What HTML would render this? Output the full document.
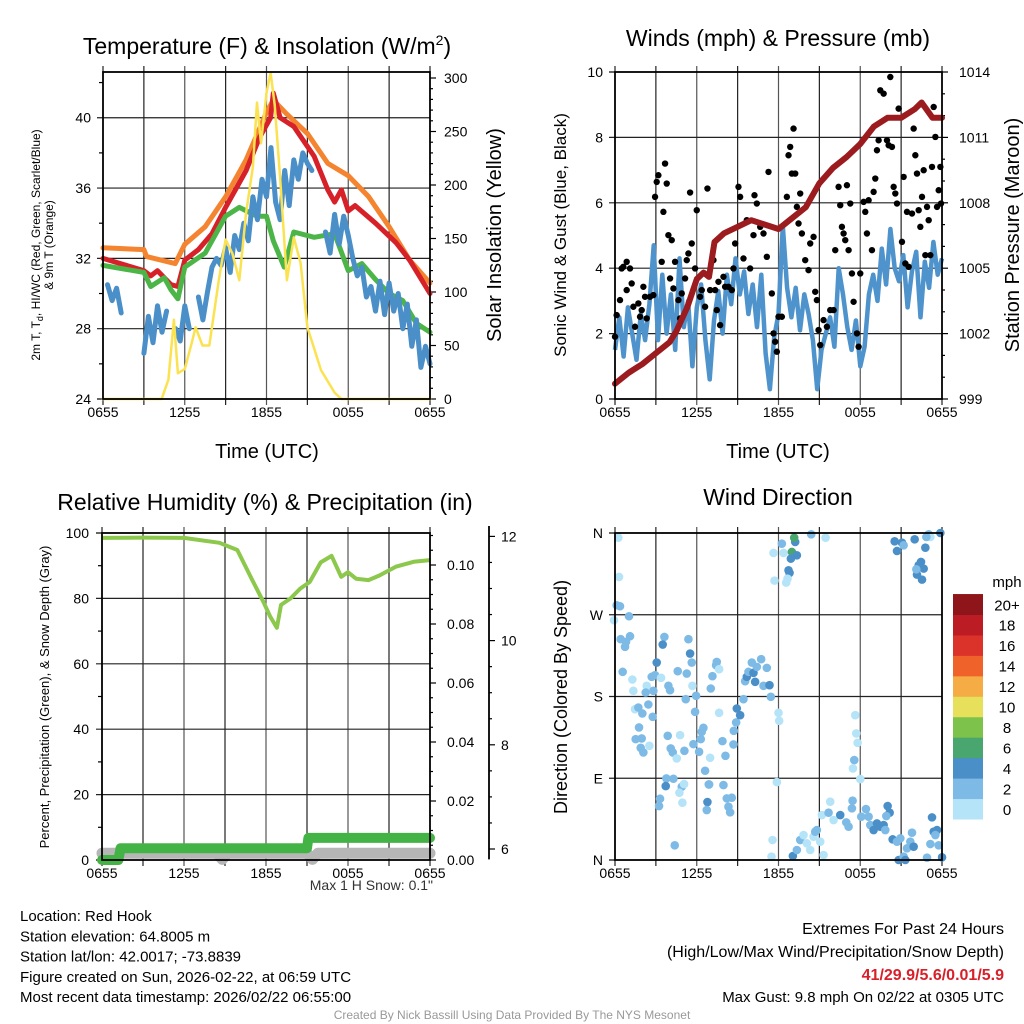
<!DOCTYPE html>
<html><head><meta charset="utf-8"><style>
html,body{margin:0;padding:0;background:#fff;}
svg{display:block;font-family:"Liberation Sans",Arial,sans-serif;}
</style></head><body>
<svg id="c" width="1024" height="1024" viewBox="0 0 1024 1024" xmlns="http://www.w3.org/2000/svg"></svg>
<script>
// ---------- DATA ----------
const xTickLabels = ["0655","1255","1855","0055","0655"];
// Temperature panel (hours since 0655 UTC)
const orangeT = [0,3,3.2,5.3,6,7.5,9,10.5,12,12.5,13.5,15,16.5,18,19.5,21,22.5,24];
const orangeV = [32.6,32.5,32.1,31.7,32.8,33.8,35.5,37.6,40.3,41.0,40.2,39.1,37.4,36.7,35.5,33.8,31.9,30.6];
const redT = [0,3,3.5,4,5,5.5,6,7,8,9,10.5,11.5,12.3,12.5,13,14,15.5,16.5,17,17.5,18,18.5,20,21.5,22.5,24];
const redV = [32.0,31.3,31.0,31.3,30.5,30.4,31.9,32.5,33.4,34.9,37.0,38.9,40.0,41.4,40.0,39.5,37.8,35.9,35.2,35.9,34.7,35.0,34.0,32.9,31.9,30.0];
const greenT = [0,3,3.5,4.5,5,5.5,6,7.5,9,10,11.3,12,12.5,13.3,14,15.5,17,18,19,20,21,22,23,24];
const greenV = [31.6,31.2,30.4,30.9,30.2,29.7,31.5,32.3,34.4,34.9,34.4,34.4,33.0,31.5,33.5,33.2,33.4,31.3,31.7,30.8,30.0,29.6,28.3,27.8];
const blueWC = [null,30.5,29.6,30.3,28.9,null,30.0,null,null,26.6,28.7,27.2,29.3,27.8,29.0,null,28.0,27.3,29.3,28.0,null,29.8,28.5,30.1,31.5,32.0,31.6,32.6,31.2,33.3,32.5,34.0,33.0,35.5,34.2,36.5,35.5,38.3,35.2,34.2,37.0,35.0,37.6,36.5,38.0,37.4,37.0,null,null,33.5,32.3,34.5,32.8,34.4,33.3,32.0,31.0,31.5,29.8,30.4,29.0,30.7,28.8,30.6,29.0,30.0,28.0,29.4,27.0,28.5,25.8,27.0,26.0];
const solarT = [0,4.3,4.8,5.2,5.5,6,6.5,6.8,7.3,7.8,8.5,9,9.5,10,10.5,11,11.3,11.6,12,12.3,12.6,13,13.5,14,14.5,15,16,17,17.5,24];
const solarV = [0,0,18,74,24,28,52,67,50,50,111,149,136,111,174,217,277,239,286,305,275,207,111,151,127,67,27,6,0,0];
// Winds panel
const sonicV = [1.5,2.5,1.3,2.8,2.0,1.2,2.6,1.8,2.9,4.7,1.8,3.8,2.0,3.2,1.5,4.3,2.2,3.0,1.0,2.8,3.5,1.8,0.6,2.4,3.3,2.0,3.8,2.9,4.3,3.2,3.9,2.6,3.5,2.2,3.8,1.4,0.3,1.9,2.6,5.3,3.4,2.5,3.4,2.1,3.2,2.6,1.8,0.3,1.5,2.0,2.5,1.6,4.0,3.2,2.2,1.5,2.4,1.0,1.6,3.2,3.8,3.0,4.6,3.5,5.2,4.0,3.6,4.4,2.8,3.9,4.5,2.5,4.2,3.4,4.8,3.8,4.3];
const pressT = [0,1,2,3,4,4.5,5.3,6,6.5,6.9,7.3,8,9,10,11,12,13,14,15,16,17,18,19,20,21,22,22.5,23.3,24];
const pressV = [999.7,1000.2,1000.6,1001.1,1001.6,1002.1,1003.2,1004.5,1004.8,1004.6,1006.2,1006.6,1006.9,1007.2,1007.0,1006.8,1007.3,1007.8,1008.9,1009.6,1010.1,1010.7,1011.5,1011.9,1011.9,1012.3,1012.6,1011.9,1011.9];
const gustX = [45,50,60,65,70,80,90,95,80,100,105,115,120,125,130,135,140,150,160,165,170,175,185,190,200,195,205,215,210,220,225,235,240,245,255,260,265,270,275,285,290,300,305,315,322,330,340,345,350,355,360,370,375,385,395,400,405,415,420,430,440,450,460,463,470,480,490,500,505,515,520,525,530,535,545,560,565,570,575,580,585,590,595,600,605,615,625,630,640,645,650,655,660,670,680,690,700,705,715,720,725,730,735,740,745,750,755,760,770,775,780,790,795,800,805,815,820,825,830,835,840,850,860,865,870,875,880,885,890,895,905,910,915,920,925,935,940,945,950,955,960,965,970,975,980,985,990,995,1000,1005,1010,1015,1020,1022];
const gustY = [830,765,720,625,620,605,625,670,690,740,800,730,770,750,680,710,775,710,705,410,365,345,605,455,370,310,525,540,655,685,605,720,775,700,655,600,580,397,550,625,450,710,690,740,385,690,600,690,750,665,795,650,680,680,690,625,550,380,410,595,480,625,525,405,430,500,520,590,335,700,820,845,875,770,770,410,285,260,340,205,340,440,490,400,520,600,630,550,530,695,720,810,855,780,800,750,750,570,380,435,500,520,540,375,570,430,640,725,820,860,640,425,455,520,420,570,395,355,270,240,90,100,240,255,50,260,380,400,430,145,545,350,610,455,620,460,205,285,340,450,500,410,330,585,440,480,585,320,140,230,440,390,320,430];
// Humidity panel
const rhT = [0,3,6,8.6,9.9,11,11.8,12.3,12.8,13.1,13.8,14.5,15.2,16,16.8,17.5,18,18.6,19.5,20.3,21.5,22.8,24];
const rhV = [98.5,98.6,98.5,97.0,94.8,85.6,79,74.5,71,78,80,83,85,91,93,86.6,88,86,85.6,87,89.7,91.2,91.7];
const precipT = [0,1.2,1.35,15.0,15.1,24];
const precipV = [0,0,0.004,0.004,0.0075,0.0075];
const snowT = [0,8.4,8.8,9.2,15.0,15.4,15.8,24];
const snowV = [5.92,5.92,5.8,5.92,5.92,5.8,5.92,5.92];
// Wind direction panel (zoom-pixel readings converted below)
const dirPx = [[55,52,1],[57,170,1],[50,255,3],[60,258,3],[42,300,1],[87,288,3],[62,357,3],[75,380,3],[90,348,3],[78,365,3],[68,455,3],[97,478,1],[100,512,1],[140,497,1],[137,517,3],[160,512,3],[155,470,3],[170,427,5],[165,465,3],[183,473,1],[193,350,3],[188,373,5],[205,497,3],[210,510,3],[233,453,3],[260,460,3],[270,400,5],[275,427,3],[265,357,3],[277,497,1],[257,537,3],[288,527,3],[285,575,3],[105,567,1],[115,562,3],[127,580,3],[145,553,3],[158,590,3],[117,622,3],[107,657,3],[125,655,3],[122,683,3],[148,677,1],[130,697,3],[203,647,3],[240,645,1],[212,685,3],[218,697,3],[230,715,1],[253,692,3],[280,672,3],[297,695,3],[302,657,3],[310,623,3],[305,635,3],[315,752,3],[330,713,1],[327,793,3],[367,663,3],[376,707,3],[370,795,3],[357,578,1],[401,632,3],[408,607,3],[400,673,3],[410,565,5],[420,585,5],[430,537,3],[435,483,3],[440,470,5],[445,455,3],[455,427,3],[460,458,5],[465,485,5],[470,440,3],[483,417,3],[490,497,3],[500,443,3],[508,495,5],[512,530,3],[348,435,3],[350,425,3],[357,447,1],[337,468,3],[332,505,3],[199,775,3],[220,776,3],[197,798,5],[245,800,3],[238,818,1],[252,792,1],[247,848,1],[180,836,3],[177,858,3],[224,976,3],[322,846,5],[320,870,3],[326,793,3],[380,835,3],[395,833,3],[385,860,3],[390,877,3],[535,578,1],[537,602,1],[530,786,1],[517,960,1],[514,1010,1],[765,585,1],[768,640,1],[772,668,1],[762,720,3],[758,745,1],[780,777,1],[545,70,3],[520,98,1],[550,98,1],[585,65,5],[582,52,7],[575,95,7],[590,105,5],[572,115,5],[565,150,5],[568,158,5],[562,175,1],[558,187,1],[523,181,1],[633,42,3],[676,52,1],[578,1008,5],[600,960,3],[610,945,1],[620,970,1],[630,990,1],[640,950,1],[650,930,3],[660,965,1],[670,1005,1],[590,990,3],[645,935,3],[665,885,1],[690,845,1],[685,878,3],[700,900,1],[720,885,5],[738,907,3],[745,920,3],[757,842,3],[755,865,3],[783,890,3],[797,867,3],[805,890,3],[810,915,3],[820,930,5],[830,910,5],[840,920,5],[850,915,5],[855,930,3],[862,858,5],[868,878,5],[858,888,3],[877,958,5],[890,965,3],[900,955,3],[895,1020,5],[910,1010,3],[920,985,3],[930,965,3],[935,938,3],[940,980,5],[915,1020,5],[883,63,5],[890,92,5],[905,67,5],[910,75,3],[943,57,5],[975,82,5],[985,42,3],[990,50,1],[978,50,3],[1020,38,5],[962,125,5],[955,135,5],[970,145,5],[950,163,5],[965,178,5],[948,147,3],[995,892,5],[1000,935,5],[1010,930,5],[1005,945,3],[990,972,3],[1015,976,3],[1025,1012,5],[980,1013,3]];
const speedBins = ["0","2","4","6","8","10","12","14","16","18","20+"];
const binColors = ["#b5e3f8","#7dbbe6","#4a8fc8","#4aa66f","#7cc24b","#e7e05a","#f6ac45","#ef622a","#db3329","#bc1c23","#8e1519"];

// ---------- HELPERS ----------
const NS="http://www.w3.org/2000/svg";
const svg=document.getElementById('c');
function el(tag,attrs,parent){const e=document.createElementNS(NS,tag);for(const k in attrs)e.setAttribute(k,attrs[k]);(parent||svg).appendChild(e);return e;}
function txt(s,x,y,size,anchor,parent,extra){const t=el('text',Object.assign({x:x,y:y,'font-size':size,'text-anchor':anchor||'middle',fill:'#000'},extra||{}),parent);t.textContent=s;return t;}
function pathFrom(xs,ys){let d='',pen=false;for(let i=0;i<xs.length;i++){if(ys[i]==null||isNaN(ys[i])){pen=false;continue;}d+=(pen?'L':'M')+xs[i].toFixed(1)+','+ys[i].toFixed(1);pen=true;}return d;}

function panel(name,x0,x1,top,bot){
  const g=el('g',{});
  
  
  const xs=h=>x0+h*(x1-x0)/24;
  const grid=el('g',{stroke:'#222','stroke-width':1.2},g);
  
  
  for(let k=1;k<8;k++){const x=xs(k*3);el('line',{x1:x,x2:x,y1:top-6,y2:bot+6,stroke:k%2?'#222':'#555'},grid);}
  el('line',{x1:xs(0),x2:xs(0),y1:bot,y2:bot+6},grid);el('line',{x1:xs(24),x2:xs(24),y1:bot,y2:bot+6},grid);
  el('line',{x1:xs(0),x2:xs(0),y1:top-6,y2:top},grid);el('line',{x1:xs(24),x2:xs(24),y1:top-6,y2:top},grid);
  const xl=el('g',{},g);
  
  
  xTickLabels.forEach((l,i)=>txt(l,xs(i*6),bot+18,14,'middle',xl));
  return {g,xs,grid};
}
function box(g,x0,x1,top,bot){const r=el('rect',{x:x0,y:top,width:x1-x0,height:bot-top,fill:'none',stroke:'#000','stroke-width':1.8},g);}
function hgrid(grid,x0,x1,y){el('line',{x1:x0-6,x2:x1,y1:y,y2:y},grid);}

// ---------- PANEL 1: Temperature ----------
(function(){
  const x0=103,x1=430,top=72,bot=399;
  const P=panel('temperature-panel',x0,x1,top,bot);
  const yT=v=>bot-(v-24)*17.58, yS=v=>bot-v*1.07;
  [28,32,36,40].forEach(v=>hgrid(P.grid,x0,x1,yT(v)));
  const ax=el('g',{stroke:'#000','stroke-width':1.2},P.g);
  
  
  for(let v=26;v<=42;v+=4)el('line',{x1:x0-4,x2:x0,y1:yT(v),y2:yT(v)},ax);
  for(let v=0;v<=300;v+=10)el('line',{x1:x1,x2:x1+(v%50?3:6),y1:yS(v),y2:yS(v)},ax);
  el('line',{x1:x0-6,x2:x0,y1:bot,y2:bot},ax);
  const tl=el('g',{},P.g);
  
  
  [24,28,32,36,40].forEach(v=>txt(String(v),x0-12,yT(v)+5,14,'end',tl));
  for(let v=0;v<=300;v+=50)txt(String(v),x1+14,yS(v)+5,14,'start',tl);
  const s=el('g',{fill:'none','stroke-linejoin':'round','stroke-linecap':'round'},P.g);
  
  
  const o=el('path',{d:pathFrom(orangeT.map(P.xs),orangeV.map(yT)),stroke:'#f4842f','stroke-width':5},s);
  
  const r=el('path',{d:pathFrom(redT.map(P.xs),redV.map(yT)),stroke:'#d62129','stroke-width':5},s);
  
  const gr=el('path',{d:pathFrom(greenT.map(P.xs),greenV.map(yT)),stroke:'#4bb548','stroke-width':5},s);
  
  const bxs=blueWC.map((v,i)=>P.xs(i*24/(blueWC.length-1)));
  const b=el('path',{d:pathFrom(bxs,blueWC.map(v=>v==null?null:yT(v))),stroke:'#4a8fc8','stroke-width':5},s);
  
  const y=el('path',{d:pathFrom(solarT.map(P.xs),solarV.map(yS)),stroke:'#fbe250','stroke-width':2.5},s);
  
  box(P.g,x0,x1,top,bot);
  const t=el('text',{x:267,y:54,'font-size':23,'text-anchor':'middle'},P.g);
  t.innerHTML='Temperature (F) &amp; Insolation (W/m<tspan dy="-9" font-size="14">2</tspan><tspan dy="9">)</tspan>';
  
  const yl=el('text',{'font-size':12,'text-anchor':'middle',transform:'translate(40,245) rotate(-90)'},P.g);
  yl.innerHTML='2m T, T<tspan dy="3" font-size="9">d</tspan><tspan dy="-3">, HI/WC (Red, Green, Scarlet/Blue)</tspan>';
  
  const yl2=txt('& 9m T (Orange)',0,0,12,'middle',P.g,{transform:'translate(53,245) rotate(-90)'});
  
  const yr=txt('Solar Insolation (Yellow)',0,0,20,'middle',P.g,{transform:'translate(501,235) rotate(-90)'});
  
  const xl=txt('Time (UTC)',267,458,20,'middle',P.g);
  
})();

// ---------- PANEL 2: Winds ----------
(function(){
  const x0=615,x1=942,top=72,bot=399;
  const P=panel('winds-panel',x0,x1,top,bot);
  const yW=v=>bot-v*32.7, yP=v=>bot-(v-999)*21.8;
  [2,4,6,8].forEach(v=>hgrid(P.grid,x0,x1,yW(v)));
  const ax=el('g',{stroke:'#000','stroke-width':1.2},P.g);
  
  el('line',{x1:x0-6,x2:x0,y1:top,y2:top},ax);el('line',{x1:x0-6,x2:x0,y1:bot,y2:bot},ax);
  for(let v=999;v<=1014;v++)el('line',{x1:x1,x2:x1+((v-999)%3?3:6),y1:yP(v),y2:yP(v)},ax);
  const tl=el('g',{},P.g);
  
  for(let v=0;v<=10;v+=2)txt(String(v),x0-12,yW(v)+5,14,'end',tl);
  for(let v=999;v<=1014;v+=3)txt(String(v),x1+17,yP(v)+5,14,'start',tl);
  const sx=sonicV.map((v,i)=>P.xs(i*24/(sonicV.length-1)));
  const sl=el('path',{d:pathFrom(sx,sonicV.map(yW)),fill:'none',stroke:'#4e93cc','stroke-width':4.5,'stroke-linejoin':'round'},P.g);
  
  const dots=el('g',{fill:'#000'},P.g);
  
  for(let i=0;i<gustX.length;i++){
    const h=(gustX[i]-45)/40.83, v=(1017-gustY[i])/98.2;
    const c=el('circle',{cx:P.xs(h),cy:yW(v),r:3.2},dots);
    
    
  }
  const pl=el('path',{d:pathFrom(pressT.map(P.xs),pressV.map(yP)),fill:'none',stroke:'#9b1b1e','stroke-width':6,'stroke-linejoin':'round','stroke-linecap':'round'},P.g);
  
  box(P.g,x0,x1,top,bot);
  const t=txt('Winds (mph) & Pressure (mb)',778,46,23,'middle',P.g);
  
  const yl=txt('Sonic Wind & Gust (Blue, Black)',0,0,17,'middle',P.g,{transform:'translate(566,235) rotate(-90)'});
  
  const yr=txt('Station Pressure (Maroon)',0,0,20,'middle',P.g,{transform:'translate(1019,235) rotate(-90)'});
  
  const xl=txt('Time (UTC)',778,458,20,'middle',P.g);
  
})();

// ---------- PANEL 3: Humidity ----------
(function(){
  const x0=102,x1=430,top=533,bot=860;
  const P=panel('humidity-panel',x0,x1,top,bot);
  const yR=v=>bot-v*3.27, yPr=v=>bot-v*2950, ySn=v=>849-(v-6)*52.1;
  [20,40,60,80].forEach(v=>hgrid(P.grid,x0,x1,yR(v)));
  const ax=el('g',{stroke:'#000','stroke-width':1.2},P.g);
  
  for(let v=10;v<=90;v+=20)el('line',{x1:x0-4,x2:x0,y1:yR(v),y2:yR(v)},ax);
  el('line',{x1:x0-6,x2:x0,y1:top,y2:top},ax);el('line',{x1:x0-6,x2:x0,y1:bot,y2:bot},ax);
  for(let k=0;k<=22;k++){const v=k*0.005;el('line',{x1:x1,x2:x1+(k%4?3:6),y1:yPr(v),y2:yPr(v)},ax);}
  el('line',{x1:489,x2:489,y1:ySn(12.2),y2:ySn(5.8),'stroke-width':1.8},ax);
  for(let k=0;k<=12;k++){const v=6+k*0.5;el('line',{x1:489,x2:489+(k%4?3:6),y1:ySn(v),y2:ySn(v)},ax);}
  const tl=el('g',{},P.g);
  
  for(let v=0;v<=100;v+=20)txt(String(v),x0-13,yR(v)+5,14,'end',tl);
  for(let v=0;v<=10;v+=2)txt('0.'+(v<10?'0':'')+v,x1+17,yPr(v/100)+5,14,'start',tl);
  for(let v=6;v<=12;v+=2)txt(String(v),501,ySn(v)+5,14,'start',tl);
  const sn=el('path',{d:pathFrom(snowT.map(P.xs),snowV.map(ySn)),fill:'none',stroke:'#b6b6b6','stroke-width':11,'stroke-linecap':'round','stroke-linejoin':'round'},P.g);
  
  const pr=el('path',{d:pathFrom(precipT.map(P.xs),precipV.map(yPr)),fill:'none',stroke:'#44b346','stroke-width':10,'stroke-linecap':'round','stroke-linejoin':'round'},P.g);
  
  const rh=el('path',{d:pathFrom(rhT.map(P.xs),rhV.map(yR)),fill:'none',stroke:'#8cc84b','stroke-width':4,'stroke-linejoin':'round'},P.g);
  
  box(P.g,x0,x1,top,bot);
  const t=txt('Relative Humidity (%) & Precipitation (in)',265,510,23,'middle',P.g);
  
  const yl=txt('Percent, Precipitation (Green), & Snow Depth (Gray)',0,0,13,'middle',P.g,{transform:'translate(49,697) rotate(-90)'});
  
  const ms=txt('Max 1 H Snow: 0.1"',433,890,14,'end',P.g,{fill:'#333'});
  
})();

// ---------- PANEL 4: Wind Direction ----------
(function(){
  const x0=615,x1=942,top=533,bot=860;
  const P=panel('wind-direction-panel',x0,x1,top,bot);
  const yD=d=>bot-d*(bot-top)/360;
  [90,180,270].forEach(v=>hgrid(P.grid,x0,x1,yD(v)));
  const ax=el('g',{stroke:'#000','stroke-width':1.2},P.g);
  el('line',{x1:x0-6,x2:x0,y1:top,y2:top},ax);el('line',{x1:x0-6,x2:x0,y1:bot,y2:bot},ax);
  const tl=el('g',{},P.g);
  
  [["N",0],["E",90],["S",180],["W",270],["N",360]].forEach(a=>txt(a[0],x0-12,yD(a[1])+5,14,'end',tl));
  const dots=el('g',{},P.g);
  
  dirPx.forEach(p=>{
    const h=(p[0]-45)/40.83, d=(1020-p[1])/982*360, spd=p[2];
    const bin=Math.min(10,Math.floor(spd/2));
    const c=el('circle',{cx:P.xs(h),cy:yD(d),r:4.3,fill:binColors[bin]},dots);
    
    
  });
  box(P.g,x0,x1,top,bot);
  const t=txt('Wind Direction',778,505,23,'middle',P.g);
  
  const yl=txt('Direction (Colored By Speed)',0,0,18,'middle',P.g,{transform:'translate(567,697) rotate(-90)'});
  
  const cb=el('g',{},P.g);
  
  const bh=20.45, cbBot=819;
  speedBins.forEach((l,i)=>{
    const y=cbBot-(i+1)*bh;
    const r=el('rect',{x:953,y:y,width:30,height:bh+0.5,fill:binColors[i]},cb);
    
    
    txt(l,1007,y+bh/2+6,15,'middle',cb);
  });
  txt('mph',1007,587,15,'middle',cb);
})();

// ---------- FOOTER TEXT ----------
(function(){
  const g=el('g',{});
  
  ["Location: Red Hook","Station elevation: 64.8005 m","Station lat/lon: 42.0017; -73.8839","Figure created on Sun, 2026-02-22, at 06:59 UTC","Most recent data timestamp: 2026/02/22 06:55:00"].forEach((s,i)=>txt(s,20,921+i*20.3,15,'start',g));
  const e=el('g',{});
  
  txt('Extremes For Past 24 Hours',1004,934,16,'end',e);
  txt('(High/Low/Max Wind/Precipitation/Snow Depth)',1004,957,16,'end',e);
  txt('41/29.9/5.6/0.01/5.9',1004,980,16,'end',e,{fill:'#d8202a','font-weight':'bold'});
  txt('Max Gust: 9.8 mph On 02/22 at 0305 UTC',1004,1002,15,'end',e);
  const c=txt('Created By Nick Bassill Using Data Provided By The NYS Mesonet',512,1019,12,'middle',null,{fill:'#999'});
  
})();
</script>
</body></html>
